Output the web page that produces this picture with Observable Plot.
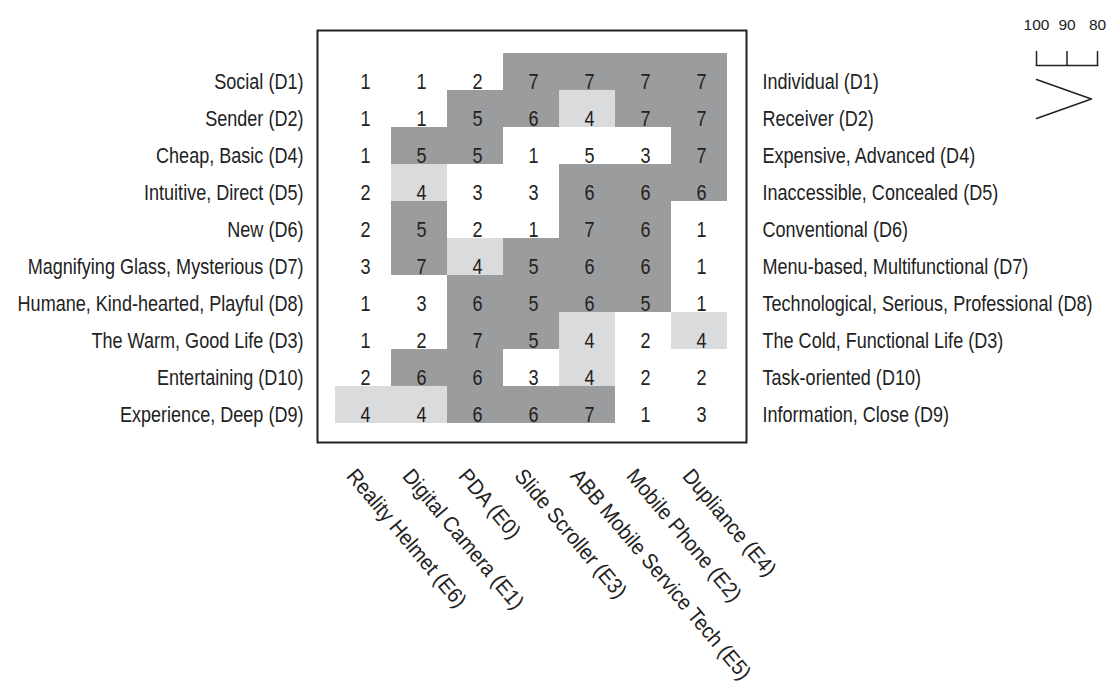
<!DOCTYPE html>
<html>
<head>
<meta charset="utf-8">
<script src="https://cdn.jsdelivr.net/npm/d3@7"></script>
<script src="https://cdn.jsdelivr.net/npm/@observablehq/plot@0.6"></script>
<style>
  html, body { margin: 0; padding: 0; background: #fff; overflow: hidden; }
  #wrap { position: relative; width: 1113px; height: 692px; }
  #mini { position: absolute; left: 1000px; top: 0px; }
  #mini text { font-size: 15.5px !important; }
</style>
</head>
<body>
<div id="wrap"><div id="main"></div><div id="mini"></div></div>
<script>
// ---- data ----
const leftLabels = [
  "Social (D1)", "Sender (D2)", "Cheap, Basic (D4)", "Intuitive, Direct (D5)", "New (D6)",
  "Magnifying Glass, Mysterious (D7)", "Humane, Kind-hearted, Playful (D8)",
  "The Warm, Good Life (D3)", "Entertaining (D10)", "Experience, Deep (D9)"
];
const rightLabels = [
  "Individual (D1)", "Receiver (D2)", "Expensive, Advanced (D4)", "Inaccessible, Concealed (D5)",
  "Conventional (D6)", "Menu-based, Multifunctional (D7)", "Technological, Serious, Professional (D8)",
  "The Cold, Functional Life (D3)", "Task-oriented (D10)", "Information, Close (D9)"
];
const elements = [
  "Reality Helmet (E6)", "Digital Camera (E1)", "PDA (E0)", "Slide Scroller (E3)",
  "ABB Mobile Service Tech (E5)", "Mobile Phone (E2)", "Dupliance (E4)"
];
const ratings = [
  [1, 1, 2, 7, 7, 7, 7],
  [1, 1, 5, 6, 4, 7, 7],
  [1, 5, 5, 1, 5, 3, 7],
  [2, 4, 3, 3, 6, 6, 6],
  [2, 5, 2, 1, 7, 6, 1],
  [3, 7, 4, 5, 6, 6, 1],
  [1, 3, 6, 5, 6, 5, 1],
  [1, 2, 7, 5, 4, 2, 4],
  [2, 6, 6, 3, 4, 2, 2],
  [4, 4, 6, 6, 7, 1, 3]
];
// highlight group of each cell: "h" = high, "m" = middle, "n" = none
const groups = [
  ["n","n","n","h","h","h","h"],
  ["n","n","h","h","m","h","h"],
  ["n","h","h","n","n","n","h"],
  ["n","m","n","n","h","h","h"],
  ["n","h","n","n","h","h","n"],
  ["n","h","m","h","h","h","n"],
  ["n","n","h","h","h","h","n"],
  ["n","n","h","h","m","n","m"],
  ["n","h","h","n","m","n","n"],
  ["m","m","h","h","h","n","n"]
];
const simTicks = [100, 90, 80];
const dendro = [
  {sim: 100, leaf: 0},
  {sim: 82, leaf: 0.5},
  {sim: 100, leaf: 1}
];

// ---- build table ----
const cells = [];
ratings.forEach((row, i) => row.forEach((v, j) => {
  cells.push({row: leftLabels[i], col: elements[j], value: v, group: groups[i][j]});
}));
const rightRows = rightLabels.map((t, i) => ({label: t, row: leftLabels[i]}));

const FONT = "'Liberation Sans', Arial, Helvetica, sans-serif";
const INK = "#222";

const main = Plot.plot({
  width: 1113,
  height: 692,
  marginLeft: 332,
  marginRight: 384,
  marginTop: 51,
  marginBottom: 267,
  style: {fontFamily: FONT, background: "white"},
  x: {domain: elements, padding: 0, axis: null},
  y: {domain: leftLabels, padding: 0, axis: null},
  color: {domain: ["n", "m", "h"], range: ["#ffffff", "#d9dbdd", "#9b9c9e"]},
  marks: [
    Plot.cell(cells, {x: "col", y: "row", fill: "group", inset: 0}),
    Plot.text(cells, {x: "col", y: "row", text: "value", dy: 10, dx: 2, fontSize: 21.5, fill: INK, className: "narrow"}),
    Plot.text(leftLabels, {y: d => d, text: d => d, frameAnchor: "left", textAnchor: "end", dx: -29, dy: 10, fontSize: 21.5, fill: INK, className: "narrow"}),
    Plot.text(rightRows, {y: "row", text: "label", frameAnchor: "right", textAnchor: "start", dx: 33, dy: 10, fontSize: 21.5, fill: INK, className: "narrow"}),
    Plot.text(elements, {x: d => d, text: d => d, frameAnchor: "bottom", textAnchor: "start", rotate: 50, dx: -18, dy: 51, fontSize: 21.5, fill: INK, className: "diag"}),
    Plot.frame({insetLeft: -15, insetRight: -17, insetTop: -21, insetBottom: -17, stroke: INK, strokeWidth: 2})
  ]
});
// condensed look of the original lettering: squeeze the glyphs horizontally about their anchor
main.querySelectorAll("g.narrow text").forEach(t => {
  t.setAttribute("transform", (t.getAttribute("transform") || "") + " scale(0.84,1)");
});
main.querySelectorAll("g.diag text").forEach(t => {
  t.setAttribute("transform", (t.getAttribute("transform") || "") + " scale(0.93,1)");
});
document.getElementById("main").appendChild(main);

const mini = Plot.plot({
  width: 113,
  height: 130,
  marginLeft: 36,
  marginRight: 16,
  marginTop: 65,
  marginBottom: 10,
  style: {fontFamily: FONT, background: "transparent"},
  x: {domain: [100, 80], label: null},
  y: {domain: [0, 1], range: [79, 118], axis: null},
  marks: [
    Plot.axisX({anchor: "top", ticks: simTicks, tickSize: 15, tickPadding: 21, label: null, stroke: INK, strokeWidth: 1.5, fill: INK, tickFormat: d => String(d)}),
    Plot.frame({anchor: "top", stroke: INK, strokeWidth: 1.5}),
    Plot.line(dendro, {x: "sim", y: "leaf", stroke: INK, strokeWidth: 1.5})
  ]
});
document.getElementById("mini").appendChild(mini);
</script>
</body>
</html>
